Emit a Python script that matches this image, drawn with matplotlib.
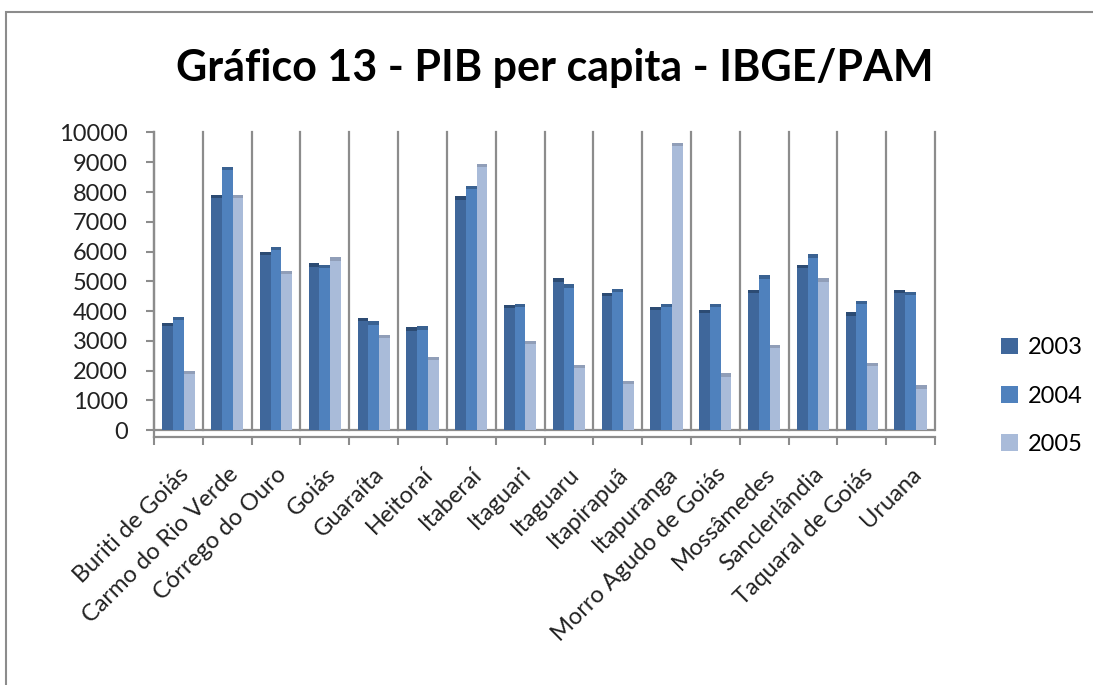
import matplotlib.pyplot as plt
import numpy as np
from matplotlib.patches import Rectangle

plt.rcParams['font.family'] = ['Lato', 'DejaVu Sans']

municipios = ['Buriti de Goiás', 'Carmo do Rio Verde', 'Córrego do Ouro', 'Goiás',
              'Guaraíta', 'Heitoraí', 'Itaberaí', 'Itaguari', 'Itaguaru', 'Itapirapuã',
              'Itapuranga', 'Morro Agudo de Goiás', 'Mossâmedes', 'Sanclerlândia',
              'Taquaral de Goiás', 'Uruana']
pib_2003 = [3600, 7900, 6000, 5600, 3780, 3450, 7850, 4200, 5100, 4600,
            4150, 4050, 4700, 5550, 3950, 4700]
pib_2004 = [3800, 8850, 6150, 5550, 3650, 3480, 8200, 4250, 4900, 4750,
            4250, 4250, 5200, 5900, 4350, 4650]
pib_2005 = [2000, 7900, 5350, 5800, 3200, 2450, 8950, 3000, 2200, 1650,
            9650, 1900, 2850, 5100, 2250, 1500]
anos = ['2003', '2004', '2005']
cores = ['#3F679B', '#4F81BD', '#A9BBD9']
cores_topo = ['#2C4B73', '#3A6292', '#909EB8']

grid_col = '#8C8C8C'

fig = plt.figure(figsize=(10.93, 6.85), dpi=100)
ax = fig.add_axes([154/1093, 1 - 437/685, (935 - 154)/1093, (437 - 132.5)/685])

x = np.arange(len(municipios))
w = 0.22
series = [pib_2003, pib_2004, pib_2005]
for k, vals in enumerate(series):
    pos = x + (k - 1) * w
    ax.bar(pos, vals, width=w, color=cores[k], zorder=3, label=anos[k])
    # darker top cap to fake the 3D look
    vals = np.array(vals)
    ax.bar(pos, 110, bottom=vals - 110, width=w, color=cores_topo[k], zorder=4)

# back wall gridlines at category boundaries
for b in np.arange(-0.5, len(municipios) + 0.5, 1.0):
    ax.plot([b, b], [0, 10000], color=grid_col, lw=1.6, zorder=1, clip_on=False)
ax.axhline(0, color=grid_col, lw=1.6, zorder=2)

ax.set_xlim(-0.5, len(municipios) - 0.5)
ax.set_ylim(-235, 10000)
ax.set_yticks(range(0, 10001, 1000))
ax.set_xticks(np.arange(-0.5, len(municipios) + 0.5, 1.0))
ax.set_xticklabels([])
ax.tick_params(axis='y', direction='out', length=6, width=1.5, color=grid_col,
               labelsize=17, pad=13, labelcolor='#222222')
ax.tick_params(axis='x', direction='out', length=6, width=1.5, color=grid_col)

for s in ['top', 'right']:
    ax.spines[s].set_visible(False)
for s in ['left', 'bottom']:
    ax.spines[s].set_color(grid_col)
    ax.spines[s].set_linewidth(1.6)

# rotated category labels
for i, nome in enumerate(municipios):
    ax.annotate(nome, xy=(i, -235), xycoords='data', xytext=(0, -19),
                textcoords='offset points', rotation=45, ha='right', va='top',
                rotation_mode='anchor', fontsize=17, color='#222222')

fig.text(0.508, 0.90, 'Gráfico 13 - PIB per capita - IBGE/PAM', ha='center', va='center',
         fontsize=31, fontweight='bold')

ax.legend(loc='upper left', bbox_to_anchor=(992/1093, 1 - 328/685), bbox_transform=fig.transFigure,
          frameon=False, fontsize=17, handlelength=0.7, handleheight=0.7,
          labelspacing=1.15, handletextpad=0.4, borderaxespad=0)

fig.patches.append(Rectangle((6/1093, -0.1), 1.2, 1 - 12/685 + 0.1, transform=fig.transFigure,
                             fill=False, edgecolor='#8C8C8C', lw=1.5))

fig.savefig('out.png', dpi=100)
